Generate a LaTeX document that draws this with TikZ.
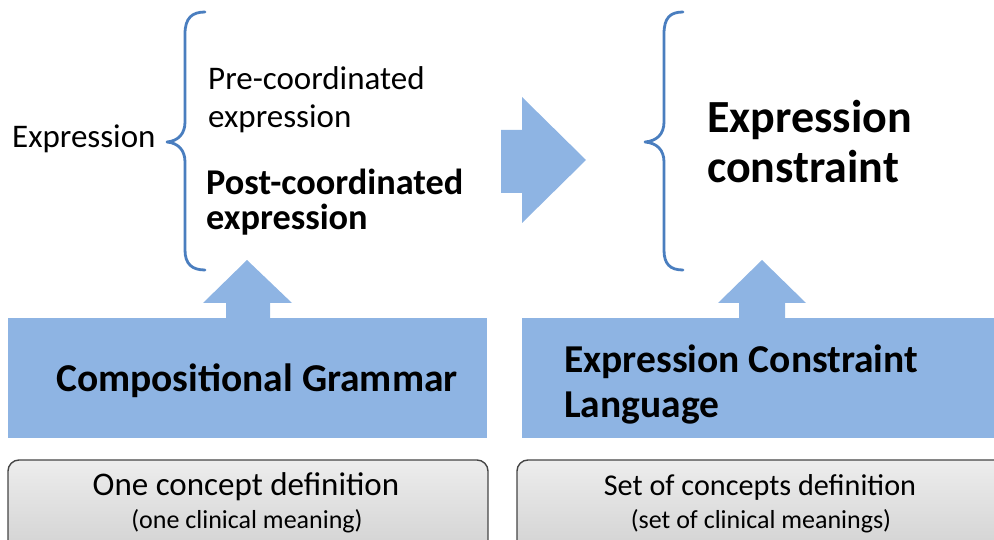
\documentclass[tikz,border=0pt]{standalone}
\usepackage{fontspec}
\setmainfont{Carlito}
\begin{document}
\begin{tikzpicture}[x=1pt,y=-1pt,
  bluefill/.style={fill=arrowblue,draw=none},
  bracestyle/.style={draw=braceblue,line width=2.8pt,line cap=round,line join=round},
  greybox/.style={draw=boxedge,line width=1.4pt,rounded corners=11pt,top color=boxtop,bottom color=boxbottom},
  txt/.style={inner sep=0pt,anchor=base west,font=\fontsize{33}{38}\selectfont},
  btxt/.style={inner sep=0pt,anchor=base west,font=\bfseries\fontsize{36.3}{40}\selectfont},
  lbl/.style={inner sep=0pt,anchor=base,font=\fontsize{#1}{#1}\selectfont},
]
\definecolor{arrowblue}{HTML}{8EB4E3}
\definecolor{braceblue}{HTML}{4A7EBF}
\definecolor{boxedge}{HTML}{454545}
\definecolor{boxtop}{HTML}{EDEDED}
\definecolor{boxbottom}{HTML}{D0D0D0}
\useasboundingbox (0,0) rectangle (994,540);
\clip (0,0) rectangle (994,540);

% left brace
\draw[bracestyle] (205,12) .. controls (192,12) and (185,18) .. (185,34)
  -- (185,122) .. controls (185,134) and (178,141) .. (167,142)
  .. controls (178,143) and (185,150) .. (185,162)
  -- (185,250) .. controls (185,264) and (192,270) .. (205,270);
% right brace
\draw[bracestyle] (683,12) .. controls (670,12) and (664,18) .. (664,34)
  -- (664,122) .. controls (664,134) and (657,141) .. (645,142)
  .. controls (657,143) and (664,150) .. (664,162)
  -- (664,250) .. controls (664,264) and (670,270) .. (683,270);

% texts of the upper part
\node[txt] (expr) at (12,148) {Expression};
\node[txt] (pre1) at (208,90) {Pre-coordinated};
\node[txt] (pre2) at (208,128) {expression};
\node[btxt] (post1) at (206,195) {Post-coordinated};
\node[btxt] (post2) at (206,230) {expression};
\node[inner sep=0pt,anchor=base west,font=\bfseries\fontsize{46}{50}\selectfont] (ec1) at (707,133) {Expression};
\node[inner sep=0pt,anchor=base west,font=\bfseries\fontsize{46}{50}\selectfont] (ec2) at (707,183) {constraint};

% big arrow to the right
\fill[bluefill] (501,130) -- (522,130) -- (522,97) -- (586,160) -- (522,223) -- (522,193) -- (501,193) -- cycle;

% up arrows
\fill[bluefill] (226,319) -- (226,303) -- (203,303) -- (247,260) -- (292,303) -- (270,303) -- (270,319) -- cycle;
\fill[bluefill] (739,319) -- (739,303) -- (718,303) -- (762,260) -- (806,303) -- (785,303) -- (785,319) -- cycle;

% blue boxes
\fill[bluefill] (8,318) rectangle (487,438);
\fill[bluefill] (522,318) rectangle (994,438);
\node[btxt,font=\bfseries\fontsize{39.5}{44}\selectfont] (cg) at (56,391) {Compositional Grammar};
\node[btxt,font=\bfseries\fontsize{39.5}{44}\selectfont] (ecl1) at (564,372) {Expression Constraint};
\node[btxt,font=\bfseries\fontsize{39.5}{44}\selectfont] (ecl2) at (564,417) {Language};

% grey boxes
\path[greybox] (8,460) rectangle (488,560);
\path[greybox] (517,460) rectangle (1010,560);
\node[lbl=33] (one1) at (246,495) {One concept definition};
\node[lbl=26] (one2) at (247,528) {(one clinical meaning)};
\node[lbl=30.2] (set1) at (760,495) {Set of concepts definition};
\node[lbl=26] (set2) at (761,528) {(set of clinical meanings)};
\end{tikzpicture}
\end{document}
